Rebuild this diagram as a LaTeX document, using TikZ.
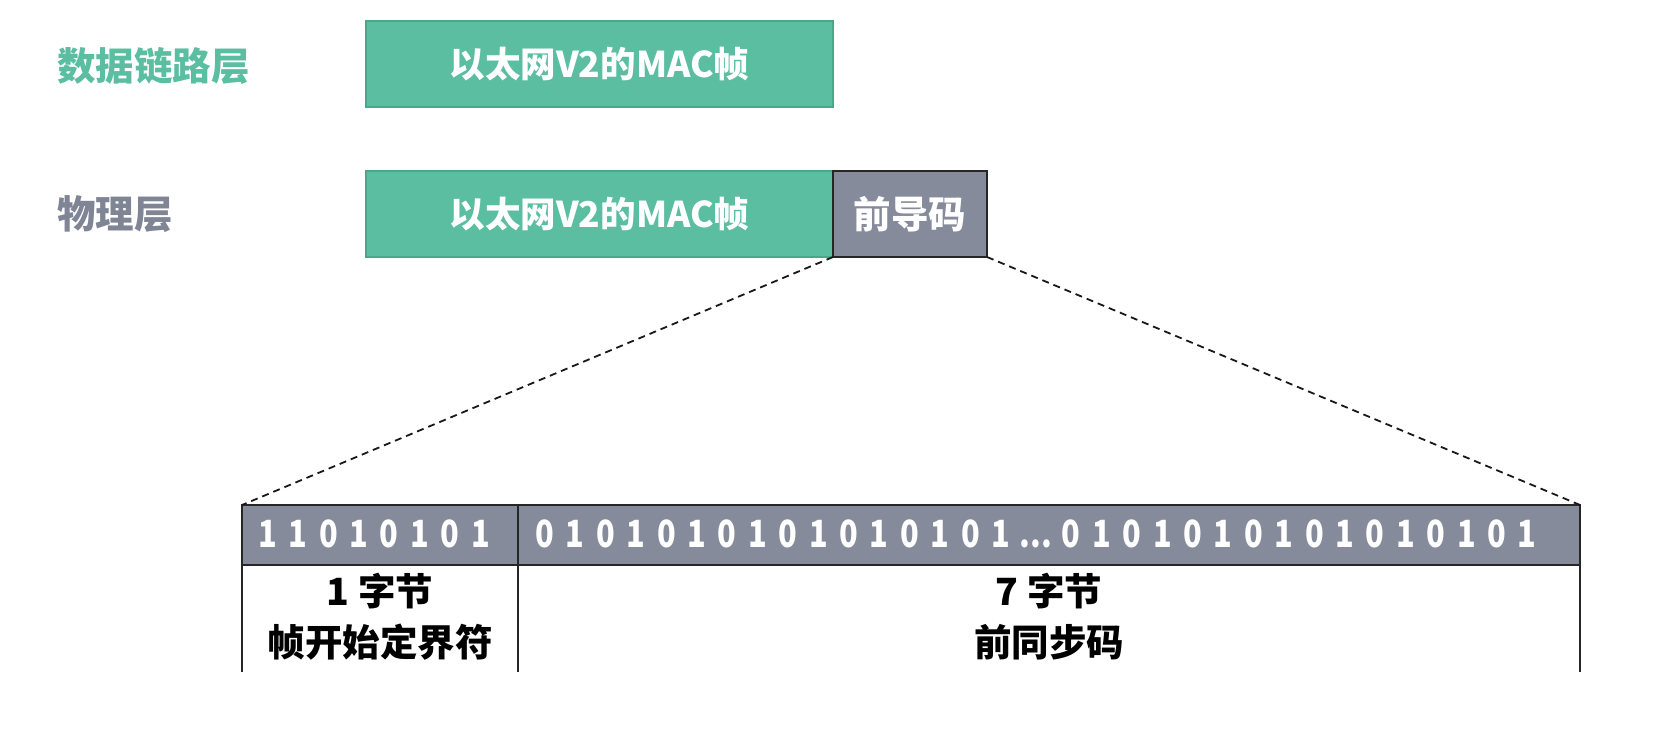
\documentclass[tikz,border=0pt]{standalone}
\usepackage{fontspec}
\setmainfont{Noto Sans CJK SC}
\newfontfamily\narrowfont{Noto Sans CJK SC}[FakeStretch=0.82]
\definecolor{macgreen}{RGB}{91,190,161}
\definecolor{macgreenline}{RGB}{72,168,138}
\definecolor{bargray}{RGB}{133,139,155}
\definecolor{labgray}{RGB}{127,133,148}
\newcommand\bd[1]{\makebox[30.4pt]{#1}}
\newcommand\bpair{\bd0\bd1}
\begin{document}
\begin{tikzpicture}[x=1pt,y=-1pt,
  every node/.style={inner sep=0pt,outer sep=0pt,font=\bfseries},
  layerlab/.style={anchor=west,font=\fontsize{38.5}{40}\selectfont\bfseries},
  greenbox/.style={draw=macgreenline,line width=1.2pt,fill=macgreen,text=white,
     minimum width=467pt,minimum height=86pt,font=\fontsize{35.5}{40}\selectfont\bfseries},
  graybox/.style={draw=black!85,line width=1.5pt,fill=bargray,text=white},
  bitcell/.style={draw=black!85,line width=1.5pt,fill=bargray,minimum height=60pt},
  bits/.style={text=white,font=\narrowfont\fontsize{37.5}{40}\selectfont\bfseries},
  captext/.style={text=black,font=\fontsize{37.5}{40}\selectfont\bfseries},
  zoomline/.style={dashed,dash pattern=on 7pt off 5pt,line width=1.8pt,black!90},
  sideline/.style={line width=1.5pt,black!85}]
\useasboundingbox (0,0) rectangle (1678,752);
\node[layerlab,text=macgreen] (dll) at (57,66) {数据链路层};
\node[layerlab,text=labgray] (phy) at (57,214) {物理层};
\node[greenbox] (mac1) at (599.5,64) {以太网V2的MAC帧};
\node[greenbox] (mac2) at (599.5,214) {以太网V2的MAC帧};
\node[graybox,minimum width=154pt,minimum height=86pt,
  font=\fontsize{37.5}{40}\selectfont\bfseries] (pre) at (910,214) {前导码};
\node[bitcell,minimum width=276pt] (c1) at (380,535) {};
\node[bitcell,minimum width=1062pt] (c2) at (1049,535) {};
\node[bits] (b1) at (374,534) {\bd1\bd1\bd0\bd1\bd0\bd1\bd0\bd1};
\node[bits] (b2) at (1036,534) {\bpair\bpair\bpair\bpair\bpair\bpair\bpair\bpair\makebox[40pt]{...}\bpair\bpair\bpair\bpair\bpair\bpair\bpair\bpair};
\coordinate (e1) at (242,672);
\coordinate (e2) at (518,672);
\coordinate (e3) at (1580,672);
\draw[sideline] (c1.south west) -- (e1);
\draw[sideline] (c1.south east) -- (e2);
\draw[sideline] (c2.south east) -- (e3);
\draw[zoomline] (pre.south west) -- (c1.north west);
\draw[zoomline] (pre.south east) -- (c2.north east);
\node[captext] (n1) at (380,591) {1 字节};
\node[captext] (d1) at (380,642) {帧开始定界符};
\node[captext] (n7) at (1049,591) {7 字节};
\node[captext] (d7) at (1049,642) {前同步码};
\end{tikzpicture}
\end{document}
